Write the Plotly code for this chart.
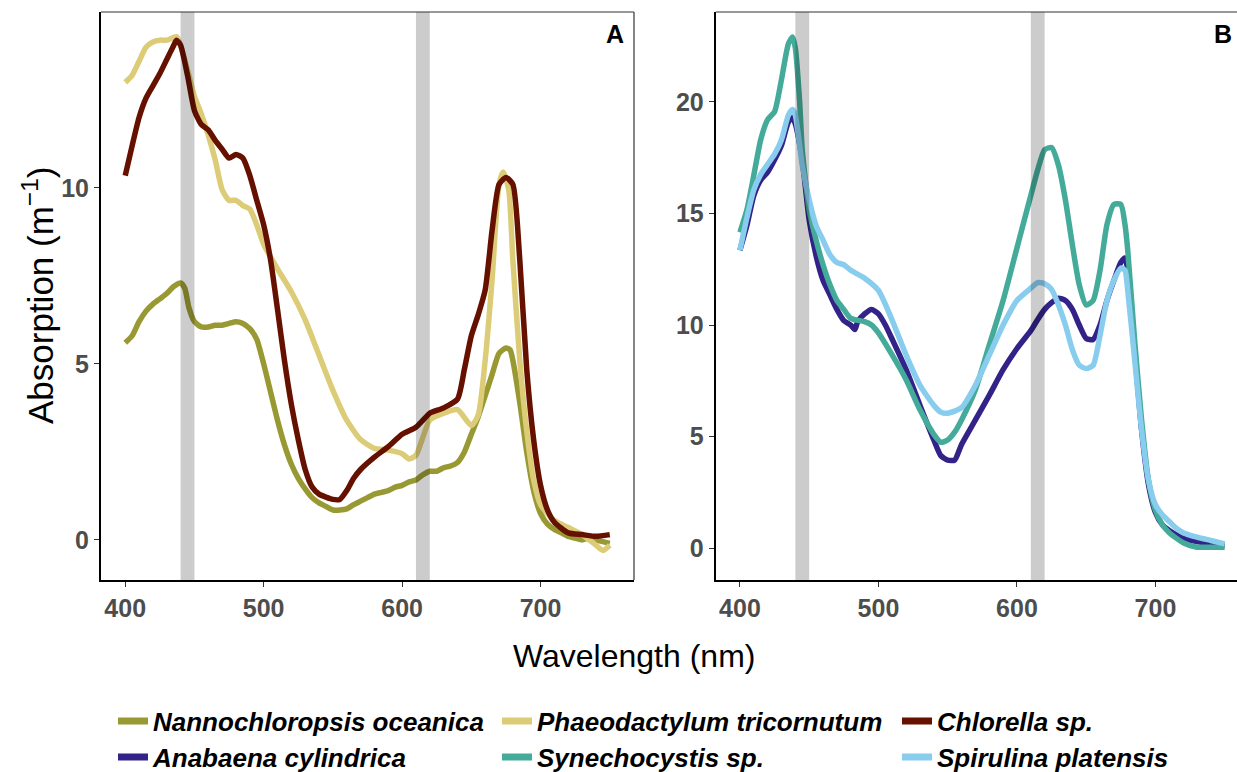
import plotly.graph_objects as go

W, H = 1237, 772

# ---------------- data ----------------
# Panel A
nanno_wl = [400,405,410,415,420,425,430,435,440,443,446,450,455,460,465,470,475,480,485,490,495,500,505,510,515,520,525,530,535,540,545,550,555,560,565,570,575,580,585,590,595,600,605,610,615,620,625,630,635,640,645,650,655,660,665,670,675,678,680,685,690,695,700,705,710,715,720,725,730,735,740,745,750]
nanno_ab = [5.6,5.8,6.2,6.5,6.7,6.85,7.0,7.2,7.3,7.15,6.6,6.2,6.05,6.05,6.1,6.1,6.15,6.2,6.15,6.0,5.7,5.0,4.2,3.4,2.7,2.15,1.75,1.45,1.2,1.05,0.95,0.85,0.85,0.88,1.0,1.1,1.2,1.3,1.35,1.4,1.5,1.55,1.65,1.7,1.85,1.95,1.95,2.05,2.1,2.2,2.5,3.0,3.5,4.1,4.7,5.3,5.45,5.4,5.1,3.9,2.5,1.4,0.75,0.45,0.3,0.2,0.1,0.05,0.0,0.05,0.0,-0.05,-0.1]

phaeo_wl = [400,405,410,415,420,425,430,437,440,445,450,455,460,465,470,475,480,485,490,495,500,510,520,530,540,550,560,570,580,590,600,605,610,620,630,640,650,655,660,665,670,673,677,680,685,690,695,700,710,720,730,740,745,750]
phaeo_ab = [13.0,13.2,13.6,14.0,14.15,14.2,14.2,14.3,14.05,13.35,12.6,12.1,11.5,10.8,9.95,9.65,9.65,9.5,9.4,8.95,8.4,7.7,7.05,6.25,5.25,4.25,3.4,2.85,2.6,2.55,2.45,2.3,2.4,3.4,3.6,3.7,3.25,3.55,5.1,7.4,10.1,10.45,9.95,7.95,5.1,3.1,1.7,1.0,0.55,0.35,0.15,-0.15,-0.3,-0.15]

chlor_wl = [400,405,410,415,420,425,430,435,437,440,445,450,455,460,465,470,475,480,485,490,495,500,505,510,515,520,525,530,535,540,550,555,560,565,570,580,590,600,610,615,620,630,640,645,650,655,660,665,670,675,680,685,690,695,700,705,710,720,730,740,750]
chlor_ab = [10.35,11.2,12.0,12.55,12.9,13.25,13.65,14.05,14.2,14.05,13.2,12.2,11.8,11.65,11.35,11.1,10.85,10.95,10.85,10.35,9.65,8.95,7.95,6.55,5.1,3.85,2.85,2.0,1.5,1.3,1.15,1.15,1.4,1.75,2.0,2.35,2.65,3.0,3.2,3.4,3.6,3.75,4.0,4.85,5.8,6.4,7.1,8.8,10.1,10.3,10.1,7.95,4.85,2.85,1.55,0.85,0.5,0.2,0.15,0.1,0.15]

# Panel B
anab_wl = [400,405,410,415,420,425,430,435,438,440,445,450,455,460,465,470,475,480,483,485,490,495,500,505,510,520,530,540,545,550,555,560,570,580,590,600,610,615,620,625,630,635,640,645,650,655,660,665,670,675,678,680,685,690,695,700,705,710,720,730,740,750]
anab_ab = [13.35,14.45,15.8,16.5,16.85,17.4,18.05,19.1,19.3,19.0,17.4,14.7,13.1,12.0,11.35,10.7,10.2,10.0,9.8,10.15,10.5,10.7,10.5,10.0,9.35,8.0,6.4,4.85,4.15,3.95,3.95,4.65,5.75,6.85,8.0,8.95,9.75,10.25,10.7,11.0,11.2,11.1,10.7,10.0,9.4,9.35,10.0,11.1,12.0,12.8,13.0,12.45,8.9,5.3,2.85,1.6,1.05,0.8,0.45,0.3,0.2,0.15]

synec_wl = [400,405,410,415,420,425,430,435,438,440,443,445,450,455,460,465,470,475,480,490,495,500,510,520,530,540,545,550,555,560,570,580,590,600,610,615,620,625,630,635,640,645,650,655,660,665,670,675,678,680,685,690,695,700,705,710,720,730,740,750]
synec_ab = [14.15,15.15,16.7,18.3,19.2,19.55,21.0,22.6,22.9,22.4,20.1,17.85,15.15,13.8,12.7,11.8,11.1,10.7,10.3,10.15,10.0,9.65,8.65,7.55,6.2,5.1,4.75,4.85,5.2,5.75,7.1,9.1,11.1,13.45,15.8,16.95,17.85,17.95,17.15,15.6,13.6,11.8,10.9,11.1,12.45,14.5,15.4,15.4,14.5,13.35,9.3,5.75,3.05,1.7,1.05,0.7,0.25,0.05,0.05,0.05]

spiru_wl = [400,405,410,415,420,425,430,435,438,440,445,450,455,460,465,470,475,480,490,500,510,520,530,540,545,550,560,570,580,590,600,610,615,620,625,630,635,640,645,650,655,660,665,670,675,678,680,685,690,695,700,705,710,715,720,730,740,750]
spiru_ab = [13.35,14.8,16.05,16.75,17.2,17.65,18.3,19.4,19.65,19.4,17.15,15.6,14.45,13.8,13.15,12.8,12.7,12.45,12.1,11.55,10.2,8.65,7.3,6.4,6.1,6.05,6.3,7.3,8.65,10.0,11.1,11.65,11.9,11.85,11.6,10.9,10.0,8.9,8.2,8.05,8.2,9.55,11.1,12.0,12.55,12.45,11.55,8.45,5.3,3.05,1.95,1.5,1.2,0.9,0.7,0.5,0.35,0.2]

species = ["Nannochloropsis oceanica", "Phaeodactylum tricornutum", "Chlorella sp.",
           "Anabaena cylindrica", "Synechocystis sp.", "Spirulina platensis"]
colors = ["#999933", "#DDCC77", "#661100", "#332288", "#44AA99", "#88CCEE"]
bands = [(440, 450), (610, 620)]
x_ticks = [400, 500, 600, 700]
yA_ticks = [0, 5, 10]
yB_ticks = [0, 5, 10, 15, 20]

# ---------------- layout geometry ----------------
def px(x):
    return x / W

def py(y):
    return 1 - y / H

FONT = "Liberation Sans, Arial, sans-serif"
top_px, bot_px = 12, 580
A_l, A_r = 101, 634
B_l, B_r = 715.7, 1237
nm_per_px = 1 / 1.385

fig = go.Figure()

panelA = [(nanno_wl, nanno_ab), (phaeo_wl, phaeo_ab), (chlor_wl, chlor_ab)]
panelB = [(anab_wl, anab_ab), (synec_wl, synec_ab), (spiru_wl, spiru_ab)]

for i, (wl, ab) in enumerate(panelA):
    fig.add_trace(go.Scatter(x=wl, y=ab, mode="lines",
                             line=dict(color=colors[i], width=5.5, shape="spline", smoothing=0.6),
                             showlegend=False, xaxis="x", yaxis="y", hoverinfo="skip"))
for i, (wl, ab) in enumerate(panelB):
    fig.add_trace(go.Scatter(x=wl, y=ab, mode="lines",
                             line=dict(color=colors[i + 3], width=5.5, shape="spline", smoothing=0.6),
                             showlegend=False, xaxis="x2", yaxis="y2", hoverinfo="skip"))

# legend entries (one legend per entry to mimic ggplot's column alignment)
leg_x = [113, 497, 897]
leg_y = [721, 757]
legends = {}
for k in range(6):
    name = "legend" if k == 0 else f"legend{k + 1}"
    col, row = k % 3, k // 3
    fig.add_trace(go.Scatter(x=[None], y=[None], mode="lines", name=species[k],
                             line=dict(color=colors[k], width=7), showlegend=True,
                             legend=name, xaxis="x", yaxis="y"))
    legends[name] = dict(x=px(leg_x[col]), y=py(leg_y[row]), xanchor="left", yanchor="middle",
                         orientation="v", bgcolor="rgba(0,0,0,0)", borderwidth=0,
                         itemwidth=30, itemclick=False, itemdoubleclick=False,
                         font=dict(family=FONT, size=26, color="black", weight="bold", style="italic"))

xr_B = [382.5, 382.5 + (B_r - B_l) * nm_per_px]

axis_common = dict(showgrid=False, zeroline=False, showline=True, linecolor="black", linewidth=2,
                   ticks="outside", ticklen=5, tickwidth=1.2, tickcolor="#333333",
                   tickfont=dict(family=FONT, size=25, color="#4D4D4D", weight="bold"))

fig.update_layout(
    width=W, height=H,
    margin=dict(l=0, r=0, t=0, b=0, autoexpand=False),
    paper_bgcolor="white", plot_bgcolor="white",
    xaxis=dict(domain=[px(A_l), px(A_r)], range=[382.5, 767.5], tickvals=x_ticks, anchor="y", **axis_common),
    yaxis=dict(domain=[py(bot_px), py(top_px)], range=[-1.14, 15.0], tickvals=yA_ticks, anchor="x", **axis_common),
    xaxis2=dict(domain=[px(B_l), 1.0], range=xr_B, tickvals=x_ticks, anchor="y2", **axis_common),
    yaxis2=dict(domain=[py(bot_px), py(top_px)], range=[-1.42, 24.02], tickvals=yB_ticks, anchor="x2", **axis_common),
    **legends,
)

shapes = []
for xa, ya in [("x", "y"), ("x2", "y2")]:
    for b0, b1 in bands:
        shapes.append(dict(type="rect", xref=xa, yref=f"{ya} domain", x0=b0, x1=b1, y0=0, y1=1,
                           fillcolor="rgba(0,0,0,0.2)", line=dict(width=0), layer="above"))
# thin top/right frame lines
shapes.append(dict(type="line", xref="x domain", yref="y domain", x0=0, x1=1, y0=1, y1=1,
                   line=dict(color="#333333", width=1.2)))
shapes.append(dict(type="line", xref="x domain", yref="y domain", x0=1, x1=1, y0=0, y1=1,
                   line=dict(color="#333333", width=1.2)))
shapes.append(dict(type="line", xref="x2 domain", yref="y2 domain", x0=0, x1=1, y0=1, y1=1,
                   line=dict(color="#333333", width=1.2)))
fig.update_layout(shapes=shapes)

annotations = [
    dict(text="A", x=px(615), y=py(34), xref="paper", yref="paper", showarrow=False,
         xanchor="center", yanchor="middle", font=dict(family=FONT, size=25, color="black", weight="bold")),
    dict(text="B", x=px(1223), y=py(34), xref="paper", yref="paper", showarrow=False,
         xanchor="center", yanchor="middle", font=dict(family=FONT, size=25, color="black", weight="bold")),
    dict(text="Wavelength (nm)", x=px(634), y=py(656), xref="paper", yref="paper", showarrow=False,
         xanchor="center", yanchor="middle", font=dict(family=FONT, size=32, color="black")),
    dict(text="Absorption (m<sup>\u22121</sup>)", x=px(38), y=py(296), xref="paper", yref="paper",
         showarrow=False, textangle=-90, xanchor="center", yanchor="middle",
         font=dict(family=FONT, size=35, color="black")),
]
fig.update_layout(annotations=annotations)

fig.write_html("out.html")
